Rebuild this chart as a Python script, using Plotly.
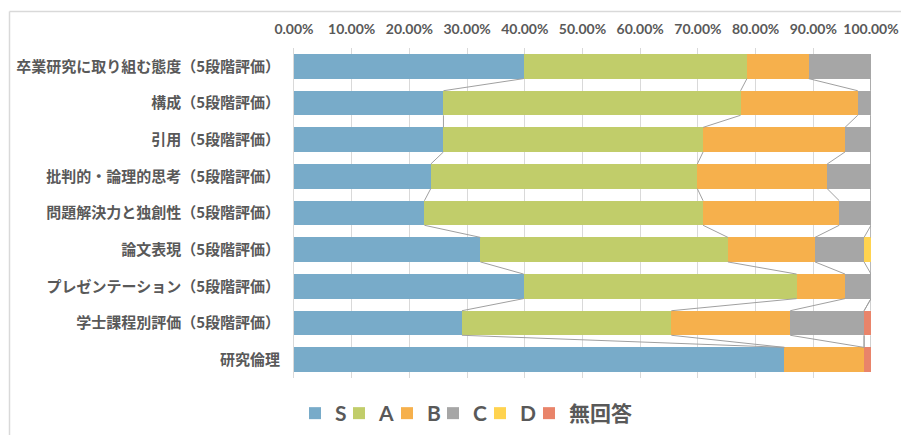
import plotly.graph_objects as go

categories = [
    "卒業研究に取り組む態度（5段階評価）",
    "構成（5段階評価）",
    "引用（5段階評価）",
    "批判的・論理的思考（5段階評価）",
    "問題解決力と独創性（5段階評価）",
    "論文表現（5段階評価）",
    "プレゼンテーション（5段階評価）",
    "学士課程別評価（5段階評価）",
    "研究倫理",
]
series_names = ["S", "A", "B", "C", "D", "無回答"]
S = [39.8, 25.9, 25.9, 23.7, 22.6, 32.3, 39.8, 29.1, 85.0]
A = [38.7, 51.5, 45.0, 46.2, 48.3, 42.9, 47.3, 36.3, 0.0]
B = [10.7, 20.3, 24.6, 22.5, 23.6, 15.1, 8.4, 20.6, 13.8]
C = [10.8, 2.3, 4.5, 7.6, 5.5, 8.5, 4.5, 12.8, 0.0]
D = [0.0, 0.0, 0.0, 0.0, 0.0, 1.2, 0.0, 0.0, 0.0]
NA = [0.0, 0.0, 0.0, 0.0, 0.0, 0.0, 0.0, 1.2, 1.2]
tick_vals = [0, 0.1, 0.2, 0.3, 0.4, 0.5, 0.6, 0.7, 0.8, 0.9, 1.0]

colors = ["#78ABC9", "#C1CD6A", "#F6B04C", "#A6A6A6", "#FFD34F", "#E9846A"]
series = [S, A, B, C, D, NA]
legend_px = [295, 339, 387, 433, 480, 529]  # left edge of each legend entry (pixels)

W, H = 901, 435
L, R, T, Bm = 294, 30, 48, 57
pw, ph = W - L - R, H - T - Bm
bar_w = 0.67
ypos = list(range(len(categories)))

def px_x(p):
    return (p - L) / pw

def px_y(p):
    return 1 - (p - T) / ph

fig = go.Figure()
legend_layout = {}
legend_font = dict(family="Lato, Noto Sans CJK JP", size=21, color="#595959", weight="bold")
for k, (name, vals, col, lx) in enumerate(zip(series_names, series, colors, legend_px)):
    lg = "legend" if k == 0 else f"legend{k + 1}"
    fig.add_trace(go.Bar(
        y=ypos, x=[v / 100 for v in vals], name=name, orientation="h",
        marker=dict(color=col, line=dict(width=0)), width=bar_w,
        hoverinfo="skip", legend=lg,
    ))
    legend_layout[lg] = dict(orientation="h", x=px_x(lx), xanchor="left", y=px_y(393),
                             yanchor="top", font=legend_font, itemwidth=30,
                             bgcolor="rgba(0,0,0,0)", itemclick=False)

# series lines (Excel style) connecting cumulative segment ends
cum = [0.0] * len(categories)
for vals in series:
    cum = [c + v / 100 for c, v in zip(cum, vals)]
    xs, ys = [], []
    for i in range(len(categories) - 1):
        xs += [cum[i], cum[i + 1], None]
        ys += [i + bar_w / 2, i + 1 - bar_w / 2, None]
    fig.add_trace(go.Scatter(x=xs, y=ys, mode="lines", showlegend=False,
                             line=dict(color="#A0A0A0", width=1), hoverinfo="skip"))

shapes = [
    dict(type="line", xref="paper", yref="paper", x0=px_x(9.5), x1=px_x(W + 5),
         y0=px_y(11.5), y1=px_y(11.5), line=dict(color="#D9D9D9", width=1.5)),
    dict(type="line", xref="paper", yref="paper", x0=px_x(9.5), x1=px_x(9.5),
         y0=px_y(11.5), y1=px_y(H + 5), line=dict(color="#D9D9D9", width=1.5)),
]

fig.update_layout(
    width=W, height=H,
    margin=dict(l=L, r=R, t=T, b=Bm, autoexpand=False),
    barmode="stack", bargap=0.33,
    plot_bgcolor="white", paper_bgcolor="white",
    font=dict(family="Lato, Noto Sans CJK JP", color="#595959"),
    xaxis=dict(side="top", range=[0, 1], tickvals=tick_vals, tickformat=".2%",
               showgrid=True, gridcolor="#D9D9D9", gridwidth=1, zeroline=False,
               showline=False, ticks="", ticklabelstandoff=10,
               tickfont=dict(family="Lato", size=14, color="#595959", weight="bold")),
    yaxis=dict(tickvals=ypos, ticktext=categories, range=[len(categories) - 0.5, -0.5],
               showgrid=False, zeroline=False, showline=True, linecolor="#D9D9D9",
               linewidth=1, ticks="", ticklabelstandoff=10,
               tickfont=dict(family="Noto Sans CJK JP", size=15, color="#595959", weight="bold")),
    shapes=shapes,
    showlegend=True,
    **legend_layout,
)

fig.write_html("out.html")
